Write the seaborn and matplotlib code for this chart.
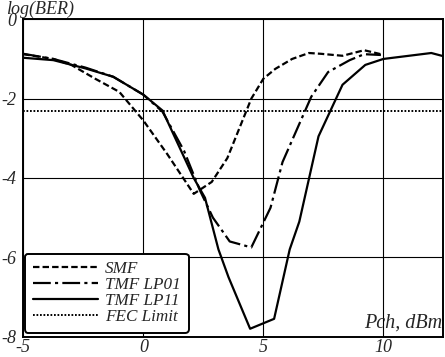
import matplotlib
matplotlib.use("Agg")
import matplotlib.pyplot as plt
import seaborn as sns

# SMF
smf_x = [-5, -3.75, -3, -2, -1, 0, 1, 2.1, 2.85, 3.5, 4, 4.5, 5, 5.5, 6.2, 6.9, 7.4, 8.3, 9.2, 9.9]
smf_y = [-0.88, -1.0, -1.15, -1.5, -1.83, -2.55, -3.4, -4.4, -4.1, -3.5, -2.75, -2.0, -1.5, -1.25, -1.0, -0.85, -0.87, -0.92, -0.78, -0.88]

# TMF LP01
lp01_x = [-5, -3.75, -2.4, -1.25, 0, 0.8, 1.7, 2.35, 2.9, 3.6, 4.5, 5.3, 5.8, 7.0, 7.7, 8.6, 9.2, 9.9]
lp01_y = [-0.87, -1.0, -1.22, -1.45, -1.9, -2.33, -3.32, -4.3, -5.0, -5.6, -5.75, -4.75, -3.6, -1.95, -1.33, -1.03, -0.88, -0.9]

# TMF LP11
lp11_x = [-5, -3.75, -2.4, -1.25, 0, 0.8, 1.25, 2.1, 2.57, 3.13, 3.55, 4.45, 5.45, 6.1, 6.5, 7.3, 8.3, 9.25, 10, 12, 12.5]
lp11_y = [-0.97, -1.03, -1.24, -1.45, -1.9, -2.3, -2.89, -4.0, -4.5, -5.8, -6.5, -7.8, -7.55, -5.8, -5.1, -2.95, -1.65, -1.15, -1.0, -0.85, -0.93]

fec_x = [-5, 12.5]
fec_y = [-2.3, -2.3]

sns.set_style("white")
plt.rcParams["font.family"] = ["Liberation Serif", "DejaVu Serif"]
plt.rcParams["font.style"] = "italic"
plt.rcParams["axes.unicode_minus"] = False

fig = plt.figure(figsize=(4.45, 3.57), dpi=100)
ax = fig.add_axes([0.0524, 0.0569, 0.9438, 0.8891])

lw = 1.6
sns.lineplot(x=smf_x, y=smf_y, sort=False, ax=ax, color="black", lw=lw,
             label="SMF").lines[-1].set_dashes([2.9, 1.4])
sns.lineplot(x=lp01_x, y=lp01_y, sort=False, ax=ax, color="black", lw=lw,
             label="TMF LP01").lines[-1].set_dashes([8, 1.9, 1.4, 1.9])
sns.lineplot(x=lp11_x, y=lp11_y, sort=False, ax=ax, color="black", lw=lw,
             label="TMF LP11")
sns.lineplot(x=fec_x, y=fec_y, sort=False, ax=ax, color="black", lw=1.4,
             label="FEC Limit").lines[-1].set_dashes([0.9, 0.9])

ax.set_xlim(-5, 12.5)
ax.set_ylim(-8, 0)
ax.set_xticks([-5, 0, 5, 10])
ax.set_yticks([0, -2, -4, -6, -8])
ax.set_xticklabels(["-5", "0", "5", "10"])
ax.set_yticklabels(["0", "-2", "-4", "-6", "-8"])
ax.tick_params(labelsize=13, length=0)
ax.tick_params(axis="x", pad=2)
ax.tick_params(axis="y", pad=5)
ax.grid(True, color="black", lw=0.8)
for s in ax.spines.values():
    s.set_color("black")
    s.set_linewidth(1.4)
ax.set_xlabel("")
ax.set_ylabel("")

fig.text(0.013, 0.998, "log(BER)", fontsize=13, style="italic", va="top", ha="left")
ax.text(0.997, 0.012, "Pch, dBm", transform=ax.transAxes, fontsize=14.5,
        style="italic", ha="right", va="bottom")

leg = ax.legend(loc="lower left", bbox_to_anchor=(0.004, 0.012), borderaxespad=0,
                fontsize=12.3, handlelength=3.8, handletextpad=0.45,
                labelspacing=0.0, borderpad=0.45, fancybox=True,
                framealpha=1, edgecolor="black")
leg.get_frame().set_linewidth(1.4)
for t in leg.get_texts():
    t.set_style("italic")

fig.savefig("out.png", dpi=100)
